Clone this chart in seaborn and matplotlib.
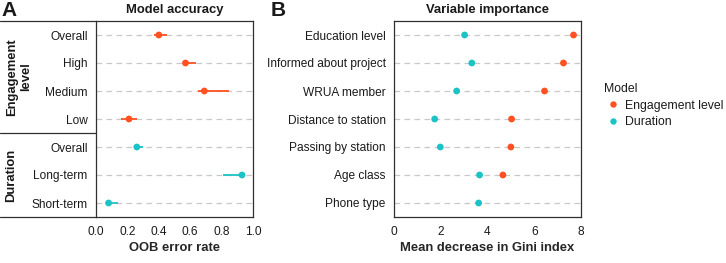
import numpy as np
import pandas as pd
import matplotlib
matplotlib.use('Agg')
import matplotlib.pyplot as plt
from matplotlib.lines import Line2D
import seaborn as sns

# panel A: out-of-bag error rate per model / class
acc_model = ['Engagement level'] * 4 + ['Duration'] * 3
acc_labels = ['Overall', 'High', 'Medium', 'Low', 'Overall', 'Long-term', 'Short-term']
acc_error = [0.40, 0.57, 0.69, 0.21, 0.26, 0.93, 0.08]
acc_low = [0.37, 0.56, 0.65, 0.16, 0.25, 0.81, 0.07]
acc_high = [0.45, 0.64, 0.85, 0.26, 0.30, 0.94, 0.14]

# panel B: variable importance
variables = ['Education level', 'Informed about project', 'WRUA member',
             'Distance to station', 'Passing by station', 'Age class', 'Phone type']
gini_engagement = [7.68, 7.25, 6.44, 5.03, 5.00, 4.66, np.nan]
gini_duration = [3.02, 3.33, 2.68, 1.74, 1.98, 3.66, 3.62]

models = ['Engagement level', 'Duration']
palette = {'Engagement level': '#FF5122', 'Duration': '#1BC3C6'}

sns.set_style('white')
plt.rcParams['font.family'] = ['Liberation Sans', 'DejaVu Sans']
plt.rcParams['text.color'] = '#1a1a1a'

df_acc = pd.DataFrame({'model': acc_model, 'label': acc_labels,
                       'error': acc_error, 'low': acc_low, 'high': acc_high,
                       'row': np.arange(len(acc_labels))})
df_imp = pd.DataFrame({'variable': variables * 2,
                       'gini': gini_engagement + gini_duration,
                       'model': ['Engagement level'] * len(variables) + ['Duration'] * len(variables)})
df_imp = df_imp.dropna()

W, H = 726, 263
fig = plt.figure(figsize=(W / 100, H / 100), dpi=100)
axA = fig.add_axes([96 / W, 1 - 217 / H, 157 / W, 196 / H])
axB = fig.add_axes([394 / W, 1 - 217 / H, 187 / W, 196 / H])

grid_kw = dict(color='#c8c8c8', lw=0.9, ls=(0, (4.5, 3.5)))
spine_c = '#303030'

# ---- panel A
for i, r in df_acc.iterrows():
    axA.plot([r['low'], r['high']], [r['row'], r['row']],
             color=palette[r['model']], lw=1.3, zorder=3, solid_capstyle='butt')
sns.scatterplot(data=df_acc, x='error', y='row', hue='model', palette=palette,
                s=24, edgecolor='none', legend=False, ax=axA, zorder=4)
axA.set_yticks(df_acc['row'])
axA.set_yticklabels(acc_labels)
axA.set_ylim(len(acc_labels) - 0.5, -0.5)
axA.set_xlim(0, 1)
axA.set_xticks([0, 0.2, 0.4, 0.6, 0.8, 1.0])
axA.set_xticklabels(['0.0', '0.2', '0.4', '0.6', '0.8', '1.0'])
axA.set_xlabel('OOB error rate', fontsize=9.4, fontweight='bold', labelpad=3)
axA.set_ylabel('')
axA.set_title('Model accuracy', fontsize=9.4, fontweight='bold', pad=6)

# strip on the left of panel A
sx = -96 / 157
for yy in [0, 1]:
    axA.plot([sx, 0], [yy, yy], transform=axA.transAxes, color=spine_c,
             lw=0.9, clip_on=False)
axA.plot([sx, 0], [3.5, 3.5], transform=axA.get_yaxis_transform(),
         color=spine_c, lw=0.9, clip_on=False)
axA.text((19 - 96) / 157, 1.5, 'Engagement\nlevel', rotation=90, ha='center',
         va='center', fontsize=9.4, fontweight='bold', linespacing=1.15,
         multialignment='center', transform=axA.get_yaxis_transform())
axA.text((11 - 96) / 157, 5, 'Duration', rotation=90, ha='center',
         va='center', fontsize=9.4, fontweight='bold',
         transform=axA.get_yaxis_transform())

# ---- panel B
sns.scatterplot(data=df_imp, x='gini', y='variable', hue='model', palette=palette,
                hue_order=models, s=24, edgecolor='none', legend=False, ax=axB, zorder=4)
axB.set_ylim(len(variables) - 0.5, -0.5)
axB.set_xlim(0, 8)
axB.set_xticks([0, 2, 4, 6, 8])
axB.set_xlabel('Mean decrease in Gini index', fontsize=9.4, fontweight='bold', labelpad=3)
axB.set_ylabel('')
axB.set_title('Variable importance', fontsize=9.4, fontweight='bold', pad=6)

for ax in (axA, axB):
    ax.set_axisbelow(True)
    ax.yaxis.grid(True, **grid_kw)
    ax.xaxis.grid(False)
    for s in ax.spines.values():
        s.set_visible(True)
        s.set_color(spine_c)
        s.set_linewidth(0.9)
    ax.tick_params(axis='both', labelsize=8.6, length=3.5, width=0.8,
                   color=spine_c, labelcolor='#1a1a1a', pad=2.5, direction='out')
    ax.tick_params(axis='x', pad=3)

fig.text(1 / W, 1 - 11 / H, 'A', fontsize=15, fontweight='bold', va='center', ha='left')
fig.text(271 / W, 1 - 11 / H, 'B', fontsize=15, fontweight='bold', va='center', ha='left')

handles = [Line2D([], [], marker='o', ls='none', color=palette[m], markersize=4.6,
                  markeredgewidth=0) for m in models]
fig.legend(handles, models, title='Model', loc='upper left',
           bbox_to_anchor=(599 / W, 1 - 78 / H), frameon=False, fontsize=8.8,
           title_fontsize=8.8, handletextpad=0.2, labelspacing=0.38,
           borderaxespad=0, handlelength=1.5, alignment='left')

fig.savefig('out.png', dpi=100)
